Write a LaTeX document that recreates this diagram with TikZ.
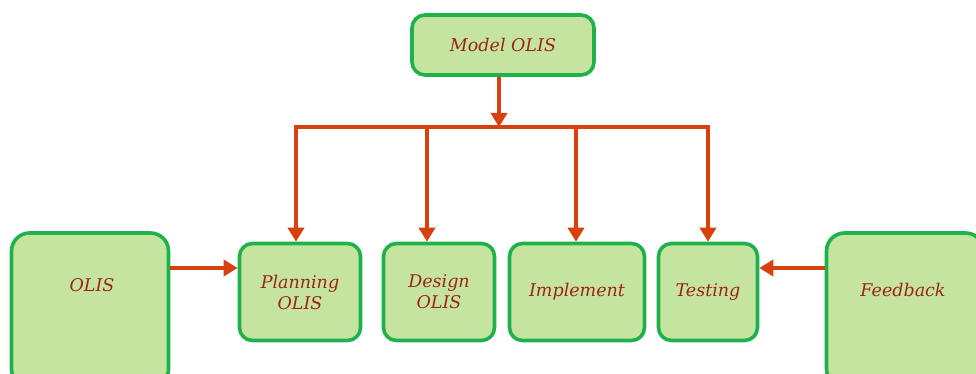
\documentclass[tikz,border=0pt]{standalone}
\usepackage{fontspec}
\setmainfont{DejaVu Serif}
\usetikzlibrary{arrows.meta}

\definecolor{boxfill}{HTML}{C5E4A0}
\definecolor{boxline}{HTML}{1EB14C}
\definecolor{linkred}{HTML}{D8400E}
\definecolor{textred}{HTML}{9E2419}

\begin{document}
\begin{tikzpicture}[x=1pt,y=-1pt,
                    stage/.style={draw=boxline, line width=3.6pt, fill=boxfill,
                                  rounded corners=13pt, text=textred,
                                  font=\itshape\fontsize{17.5}{21}\selectfont,
                                  align=center, inner sep=0pt},
                    label/.style={text=textred, font=\itshape\fontsize{17.5}{21}\selectfont},
                    link/.style={draw=linkred, line width=3.8pt,
                                 -{Triangle[length=14pt,width=16pt]}},
                    bar/.style={draw=linkred, line width=3.8pt}
                    ]
    \clip (0,0) rectangle (976,374);
    \fill[white] (0,0) rectangle (976,374);

    % top box
    \node[stage, minimum width=182pt, minimum height=60pt] (model) at (503,45) {Model OLIS};

    % row of stages
    \node[stage, minimum width=157pt, minimum height=154pt, rounded corners=18pt] (olis) at (90,310) {};
    \node[label] (olisT) at (92,285) {OLIS};
    \node[stage, minimum width=121pt, minimum height=97pt] (plan) at (300,292) {Planning\\OLIS};
    \node[stage, minimum width=111pt, minimum height=97pt] (design) at (439,292) {Design\\OLIS};
    \node[stage, minimum width=135pt, minimum height=97pt] (impl) at (577,292) {Implement};
    \node[stage, minimum width=99pt, minimum height=97pt] (test) at (708,292) {Testing};
    \node[stage, minimum width=157pt, minimum height=154pt, rounded corners=18pt] (feedback) at (905,310) {};
    \node[label] (feedbackT) at (903,290) {Feedback};

    % distribution bar
    \coordinate (hub) at (499,127);
    \coordinate (barL) at (294,127);
    \coordinate (barR) at (710,127);
    \draw[bar] (barL) -- (barR);
    \draw[link] (model.south -| hub) -- (hub);

    \foreach \n/\x in {plan/296,design/427,impl/576,test/708} {
        \coordinate (tap\n) at (\x,127);
        \draw[link] (tap\n) -- (tap\n |- \n.north);
    }

    % side inputs
    \draw[link] (olis.east |- 0,268) -- (plan.west |- 0,268);
    \draw[link] (feedback.west |- 0,268) -- (test.east |- 0,268);
\end{tikzpicture}
\end{document}
